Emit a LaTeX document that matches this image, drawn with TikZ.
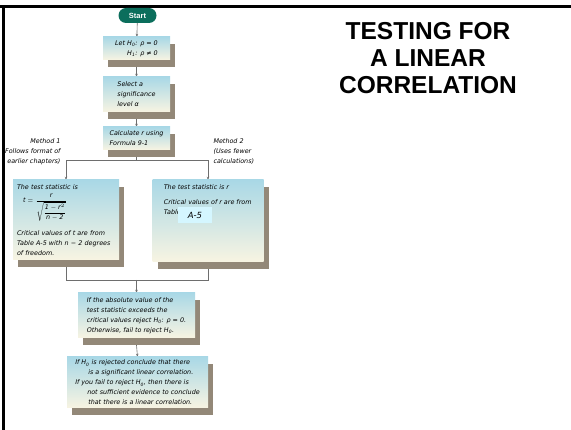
\documentclass[tikz,border=0pt]{standalone}
\usepackage{amsmath, amssymb}
\usepackage{fontspec}
\setmainfont{Liberation Sans}
\newfontfamily\notefont{DejaVu Sans}
\usetikzlibrary{arrows.meta, backgrounds, shadows}

\definecolor{startgreen}{HTML}{0B6E5C}
\definecolor{boxtop}{HTML}{A9D8E6}
\definecolor{boxbottom}{HTML}{F8F4E2}
\definecolor{boxshadow}{HTML}{938878}
\definecolor{linegray}{HTML}{6E6E6E}
\definecolor{notecyan}{HTML}{D4F6FF}

\newcommand{\boxfont}{\notefont\fontsize{6.4}{10}\selectfont\itshape}
\newcommand{\Hnull}{H\textsubscript{0}}
\newcommand{\Halt}{H\textsubscript{1}}

\begin{document}
\begin{tikzpicture}[x=1pt, y=-1pt,
  flowbox/.style={top color=boxtop, bottom color=boxbottom, inner sep=3pt,
    font=\boxfont, drop shadow={shadow xshift=5pt, shadow yshift=-7pt,
    fill=boxshadow, opacity=1}},
  startbox/.style={fill=startgreen, text=white, rounded corners=7.5pt,
    minimum width=38, minimum height=15, inner sep=1pt,
    font=\bfseries\fontsize{7.5}{8}\selectfont},
  link/.style={draw=linegray, line width=0.6pt},
  arrow/.style={link, -{Stealth[length=3pt, width=2.5pt]}}]
  \useasboundingbox (0,0) rectangle (571,430);

  % Frame
  \draw[line width=2.5pt] (0,6.5) -- (571,6.5);
  \draw[line width=3pt] (3.5,6.5) -- (3.5,430);

  % Title
  \node[align=center, font=\bfseries\fontsize{24.5}{27}\selectfont] (title)
    at (428,58) {TESTING FOR\\A LINEAR\\CORRELATION};

  % Steps
  \node[startbox] (start) at (137.5,15.5) {Start};
  \node[flowbox, minimum width=67, minimum height=23, align=right] (hyp)
    at (136.5,48.5) {Let \Hnull: ρ = 0\\\Halt: ρ ≠ 0};
  \node[flowbox, minimum width=67, minimum height=35, align=left] (alpha)
    at (136.5,94.5) {Select a\\significance\\level α};
  \node[flowbox, minimum width=67, minimum height=23, align=left] (calc)
    at (136.5,138.5) {Calculate r using\\Formula 9-1};

  % Method 1: t statistic
  \node[flowbox, text width=98, inner xsep=4pt, minimum height=80, align=left] (tstat)
    at (66,220) {The test statistic is\\[3pt]
      \hspace*{6pt}$\text{t} = \dfrac{\text{r}}{\sqrt{\dfrac{\text{1} - \text{r}^2}{\text{n} - \text{2}}}}$\\[8pt]
      Critical values of t are from\\Table A-5 with n − 2 degrees\\of freedom.};
  \node[anchor=north east, align=right, font=\boxfont] (meth1) at (64,135)
    {Method 1\\(Follows format of\\earlier chapters)};

  % Method 2: r itself
  \node[flowbox, minimum width=111, minimum height=82] (rstat) at (208,221) {};
  \node[anchor=north west, align=left, font=\boxfont] (rtext)
    at ([shift={(8,1)}]rstat.north west)
    {The test statistic is r\\[5pt]Critical values of r are from\\Table};
  \node[fill=notecyan, minimum width=34, minimum height=16, inner sep=1pt,
    font=\notefont\itshape\fontsize{8.5}{9}\selectfont] (note) at (195,215) {A-5};
  \node[anchor=north west, align=left, font=\boxfont] (meth2) at (210,135)
    {Method 2\\(Uses fewer\\calculations)};

  % Decision and conclusion
  \node[flowbox, minimum width=117, minimum height=45, align=left] (decide)
    at (136.5,315.5) {If the absolute value of the\\test statistic exceeds the\\
      critical values reject \Hnull: ρ = 0.\\Otherwise, fail to reject \Hnull.};
  \node[flowbox, minimum width=141, minimum height=51, align=left] (conclude)
    at (137.5,382.5) {If \Hnull{} is rejected conclude that there\\
      \hspace*{13pt}is a significant linear correlation.\\
      If you fail to reject \Hnull, then there is\\
      \hspace*{12pt}not sufficient evidence to conclude\\
      \hspace*{13pt}that there is a linear correlation.};

  % Connectors
  \coordinate (split) at (136.5,160);
  \coordinate (join) at (136.5,280);
  \begin{scope}[on background layer]
    \draw[arrow] (start) -- (hyp);
    \draw[arrow] (hyp.south) ++(0,7) -- (alpha.north);
    \draw[arrow] (alpha.south) ++(0,7) -- (calc.north);
    \draw[link] (calc) -- (split);
    \draw[arrow] (split) -| (tstat.north);
    \draw[arrow] (split) -| (rstat.north);
    \draw[link] (tstat) |- (join);
    \draw[link] (rstat) |- (join);
    \draw[arrow] (join) -- (decide.north);
    \draw[arrow] (decide.south) ++(0,7) -- (conclude.north);
  \end{scope}
\end{tikzpicture}
\end{document}
